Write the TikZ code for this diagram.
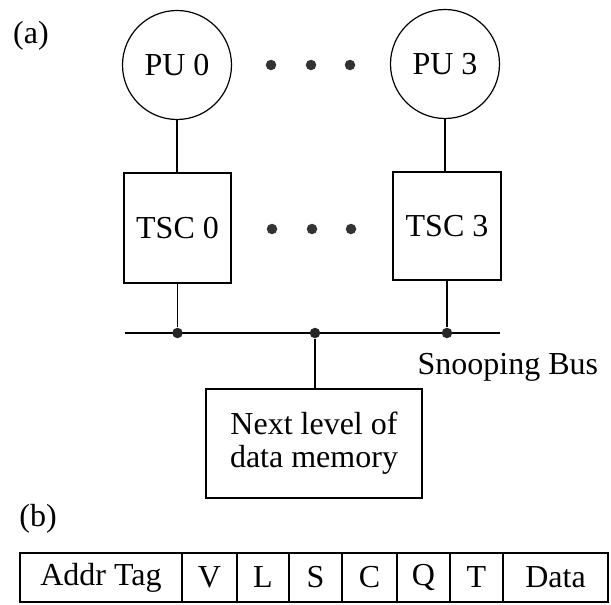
\documentclass[tikz,border=0pt]{standalone}
\usepackage{fontspec}
\setmainfont{Liberation Serif}
\begin{document}
\begin{tikzpicture}[x=1pt,y=-1pt,line width=1.2pt,
  every node/.style={font=\fontsize{32}{33}\selectfont},
  pu/.style={draw,circle,minimum size=109pt,inner sep=0pt},
  ctrl/.style={draw,rectangle,inner sep=0pt},
  junction/.style={circle,fill=black!85,inner sep=0pt,minimum size=10.5pt},
  ellip/.style={circle,fill=black!80,inner sep=0pt,minimum size=10.5pt},
  cell/.style={draw,rectangle,inner sep=0pt,minimum height=49pt}]
\useasboundingbox (0,0) rectangle (611,605);

% part (a): processing units, snooping controllers and the shared bus
\node (la) at (31,36) {(a)};
\node[pu] (p0) at (177,65) {PU 0};
\node[pu] (p3) at (445,64) {PU 3};
\node[ellip] (e1) at (271,65) {};
\node[ellip] (e2) at (311,65) {};
\node[ellip] (e3) at (350,65) {};

\node[ctrl,minimum width=107pt,minimum height=110pt] (t0) at (177.5,228) {TSC 0};
\node[ctrl,minimum width=108pt,minimum height=108pt] (t3) at (447,226) {TSC 3};
\node[ellip] (f1) at (272,229) {};
\node[ellip] (f2) at (312,229) {};
\node[ellip] (f3) at (351,229) {};

\draw (p0.south) -- (p0.south |- t0.north);
\draw (p3.south) -- (p3.south |- t3.north);

\coordinate (busL) at (125,333);
\coordinate (busR) at (500,333);
\draw (busL) -- (busR);
\node[junction] (j0) at (t0.south |- busL) {};
\node[junction] (jm) at (315,333) {};
\node[junction] (j3) at (t3.south |- busL) {};
\draw (t0.south) -- (j0);
\draw (t3.south) -- (j3);
\node[anchor=base west,inner sep=0pt] (bus) at (417,374) {Snooping Bus};

\node[ctrl,minimum width=216pt,minimum height=109pt,align=center] (mem) at (314,443.5)
  {Next level of\\data memory};
\draw (jm) -- (jm |- mem.north);

% part (b): layout of a cache line entry
\node (lb) at (38,519) {(b)};
\node[cell,minimum width=162pt] (c1) at (101,577.5) {Addr Tag};
\node[cell,minimum width=55pt] (c2) at (209.5,577.5) {V};
\node[cell,minimum width=52pt] (c3) at (263,577.5) {L};
\node[cell,minimum width=53pt] (c4) at (315.5,577.5) {S};
\node[cell,minimum width=55pt] (c5) at (369.5,577.5) {C};
\node[cell,minimum width=53pt] (c6) at (423.5,577.5) {Q};
\node[cell,minimum width=53pt] (c7) at (476.5,577.5) {T};
\node[cell,minimum width=105pt] (c8) at (555.5,577.5) {Data};
\end{tikzpicture}
\end{document}
